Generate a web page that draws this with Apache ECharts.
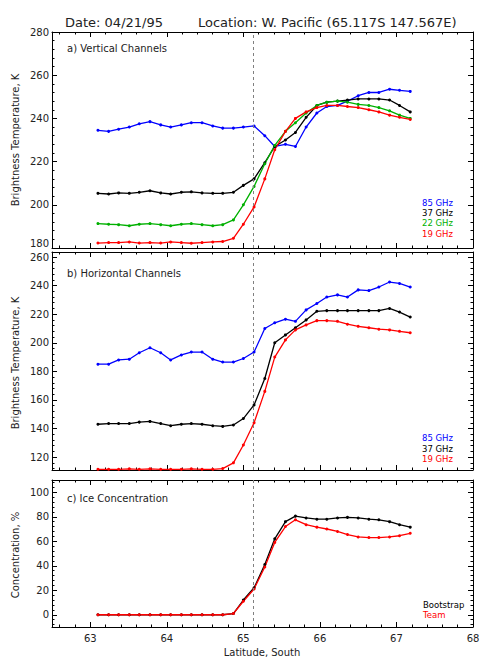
<!DOCTYPE html>
<html>
<head>
<meta charset="utf-8">
<script src="https://cdn.jsdelivr.net/npm/echarts@6/dist/echarts.min.js"></script>
<style>
  html, body { margin: 0; padding: 0; background: #fff; }
  #chart { width: 484px; height: 658px; }
</style>
</head>
<body>
<div id="chart"></div>
<script>
// ---------------- data ----------------
const latitude = [63.10, 63.24, 63.37, 63.51, 63.64, 63.78, 63.92, 64.05, 64.19, 64.32,
                  64.46, 64.60, 64.73, 64.87, 65.00, 65.14, 65.28, 65.41, 65.55, 65.68,
                  65.82, 65.96, 66.09, 66.23, 66.36, 66.50, 66.64, 66.77, 66.91, 67.04, 67.18];

// a) Vertical channels (K)
const v85 = [234.5, 234, 235, 236, 237.5, 238.5, 237, 236, 237, 238,
             238, 236.5, 235.5, 235.5, 236, 236.5, 232, 227, 228, 227,
             236, 242.5, 245.5, 246, 248, 250.5, 252, 252, 253.5, 253, 252.5];
const v37 = [205.3, 205, 205.5, 205.3, 205.8, 206.5, 205.5, 205, 205.8, 206,
             205.5, 205.3, 205.3, 205.8, 209, 212, 219.5, 227, 230, 233.5,
             240.5, 246, 247.5, 248, 248.5, 249, 249, 249, 248.5, 246, 243];
const v22 = [191.3, 191, 190.8, 190.3, 191, 191.3, 190.8, 190.3, 191, 191.3,
             190.8, 190.3, 190.8, 193, 200, 208.5, 219, 227.5, 234, 238,
             242.5, 246, 247.5, 248, 247.5, 246.5, 246, 245, 243.5, 241.5, 240];
const v19 = [182.3, 182.5, 182.5, 182.8, 182.3, 182.5, 182.3, 182.8, 182.5, 182.2,
             182.5, 182.8, 183, 184.5, 191, 199, 212, 225.5, 234, 240,
             243, 245, 246, 246, 245.5, 245, 244, 243, 241.5, 240.5, 239.5];

// b) Horizontal channels (K)
const h85 = [185, 185, 188, 188.5, 193, 196.5, 193, 188, 191.5, 193.5,
             193.5, 188.5, 186.5, 186.5, 189, 193.5, 210, 214, 216.5, 215,
             223, 227.5, 232, 233.5, 232, 237, 236.5, 239, 242.5, 241.5, 239];
const h37 = [143, 143.5, 143.5, 143.5, 144.5, 145, 143.5, 142, 143, 143.5,
             143, 142, 141.5, 142.5, 147, 156.5, 175, 200, 205.5, 210.5,
             216, 222, 222.5, 222.5, 222.5, 222.5, 222.5, 222.5, 224, 221.5, 218];
const h19 = [111.5, 111.5, 111.5, 111.8, 111.5, 111.8, 111.5, 111.5, 111.5, 111.8,
             111.5, 111.5, 112, 116, 128.5, 144, 166, 190, 202, 209,
             212.5, 215.5, 215.5, 215, 213, 211.5, 210.5, 209.5, 209, 208, 207];

// c) Ice concentration (%)
const bootstrap = [0, 0, 0, 0, 0, 0, 0, 0, 0, 0, 0, 0, 0, 1, 12, 22, 41, 62, 76, 80.5,
                   79, 78, 78, 79, 79.5, 79, 78, 77.5, 76, 73.5, 71.5];
const team      = [0, 0, 0, 0, 0, 0, 0, 0, 0, 0, 0, 0, 0, 1, 11, 21, 39, 59, 72, 77.5,
                   73.5, 71.5, 70, 68, 65.5, 63.5, 63, 63, 63.5, 64.5, 66.5];

const iceEdgeLat = 65.13;

// tick labels
const xTicks  = [63, 64, 65, 66, 67, 68];
const yTicksA = [180, 200, 220, 240, 260, 280];
const yTicksB = [120, 140, 160, 180, 200, 220, 240, 260];
const yTicksC = [0, 20, 40, 60, 80, 100];

// ---------------- layout / style ----------------
const FONT = "'DejaVu Sans', sans-serif";
const grids = [
  { left: 52, right: 11, top: 32,  height: 216 },
  { left: 52, right: 11, top: 252, height: 218 },
  { left: 52, right: 11, top: 480, height: 147 }
];
const yRanges = [[180, 280], [111, 263.5], [-10, 110]];
const yMajors = [yTicksA, yTicksB, yTicksC];
const xRange = [62.5, 68];

function minorTicks(lo, hi, step, majors) {
  const out = [];
  const start = Math.ceil(lo / step - 1e-9) * step;
  for (let v = start; v <= hi + 1e-9; v += step) {
    const r = Math.round(v * 1000) / 1000;
    if (!majors.some(m => Math.abs(m - r) < 1e-6)) out.push(r);
  }
  return out;
}
const xMinor = minorTicks(xRange[0], xRange[1], 0.2, xTicks);
const yMinors = [
  minorTicks(180, 280, 4, yTicksA),
  minorTicks(111, 263.5, 4, yTicksB),
  minorTicks(-10, 110, 4, yTicksC)
];

const xAxes = [], yAxes = [];
grids.forEach((g, gi) => {
  const xb = { type: 'value', gridIndex: gi, min: xRange[0], max: xRange[1], splitLine: { show: false } };
  const showX = gi === 2;
  const lineOn = { show: true, onZero: false, lineStyle: { color: '#000', width: 1 } };
  const lineOff = { show: false, onZero: false };
  xAxes.push(
    Object.assign({}, xb, { position: 'bottom', axisLine: lineOn,
      axisTick: { show: true, inside: true, length: 5, customValues: xTicks, lineStyle: { color: '#000' } },
      axisLabel: { show: showX, customValues: xTicks, margin: 6, fontSize: 10, color: '#222', fontFamily: FONT } }),
    Object.assign({}, xb, { position: 'bottom', axisLine: lineOff,
      axisTick: { show: true, inside: true, length: 2.5, customValues: xMinor, lineStyle: { color: '#000' } },
      axisLabel: { show: false } }),
    Object.assign({}, xb, { position: 'top', axisLine: lineOn,
      axisTick: { show: true, inside: true, length: 5, customValues: xTicks, lineStyle: { color: '#000' } },
      axisLabel: { show: false } }),
    Object.assign({}, xb, { position: 'top', axisLine: lineOff,
      axisTick: { show: true, inside: true, length: 2.5, customValues: xMinor, lineStyle: { color: '#000' } },
      axisLabel: { show: false } })
  );
  const yb = { type: 'value', gridIndex: gi, min: yRanges[gi][0], max: yRanges[gi][1], splitLine: { show: false } };
  const yLabel = { show: true, customValues: yMajors[gi], margin: 3, fontSize: 10, color: '#222', fontFamily: FONT };
  if (gi === 0) yLabel.verticalAlignMinLabel = 'bottom';
  yAxes.push(
    Object.assign({}, yb, { position: 'left', axisLine: lineOn,
      axisTick: { show: true, inside: true, length: 5, customValues: yMajors[gi], lineStyle: { color: '#000' } },
      axisLabel: yLabel }),
    Object.assign({}, yb, { position: 'left', axisLine: lineOff,
      axisTick: { show: true, inside: true, length: 2.5, customValues: yMinors[gi], lineStyle: { color: '#000' } },
      axisLabel: { show: false } }),
    Object.assign({}, yb, { position: 'right', axisLine: lineOn,
      axisTick: { show: true, inside: true, length: 5, customValues: yMajors[gi], lineStyle: { color: '#000' } },
      axisLabel: { show: false } }),
    Object.assign({}, yb, { position: 'right', axisLine: lineOff,
      axisTick: { show: true, inside: true, length: 2.5, customValues: yMinors[gi], lineStyle: { color: '#000' } },
      axisLabel: { show: false } })
  );
});

const BLUE = '#0000ff', BLACK = '#000000', GREEN = '#00b000', RED = '#ff0000';

function lineSeries(name, values, color, gi, withEdge) {
  const s = {
    name: name, type: 'line', xAxisIndex: gi * 4, yAxisIndex: gi * 4,
    data: latitude.map((x, i) => [x, values[i]]),
    symbol: 'circle', symbolSize: 3, showSymbol: true,
    lineStyle: { color: color, width: 1.3 },
    itemStyle: { color: color },
    animation: false, silent: true, z: 3
  };
  if (withEdge) {
    s.markLine = {
      silent: true, symbol: ['none', 'none'], label: { show: false },
      lineStyle: { color: '#808080', type: [3, 3], width: 1 },
      data: [{ xAxis: iceEdgeLat }],
      animation: false
    };
  }
  return s;
}

const series = [
  lineSeries('85 GHz', v85, BLUE, 0, true),
  lineSeries('37 GHz', v37, BLACK, 0, false),
  lineSeries('22 GHz', v22, GREEN, 0, false),
  lineSeries('19 GHz', v19, RED, 0, false),
  lineSeries('85 GHz H', h85, BLUE, 1, true),
  lineSeries('37 GHz H', h37, BLACK, 1, false),
  lineSeries('19 GHz H', h19, RED, 1, false),
  lineSeries('Bootstrap', bootstrap, BLACK, 2, true),
  lineSeries('Team', team, RED, 2, false)
];

function txt(x, y, text, size, color, opts) {
  opts = opts || {};
  return {
    type: 'text', x: x, y: y, rotation: opts.rotation || 0, silent: true,
    style: {
      text: text, fill: color, font: (opts.weight || 'normal') + ' ' + size + 'px ' + FONT,
      align: opts.align || 'left', verticalAlign: 'middle',
      textAlign: opts.align || 'left', textVerticalAlign: 'middle'
    }
  };
}

const graphics = [
  txt(65, 22, 'Date: 04/21/95', 13, '#222'),
  txt(198, 22, 'Location: W. Pacific (65.117S 147.567E)', 13, '#222'),
  txt(67, 48, 'a) Vertical Channels', 10, '#222'),
  txt(67, 273, 'b) Horizontal Channels', 10, '#222'),
  txt(67, 498, 'c) Ice Concentration', 10, '#222'),
  txt(15, 140, 'Brightness Temperature, K', 10, '#222', { align: 'center', rotation: Math.PI / 2 }),
  txt(15, 363, 'Brightness Temperature, K', 10, '#222', { align: 'center', rotation: Math.PI / 2 }),
  txt(15, 555, 'Concentration, %', 10, '#222', { align: 'center', rotation: Math.PI / 2 }),
  txt(262, 652, 'Latitude, South', 10, '#222', { align: 'center' }),
  txt(422, 203, '85 GHz', 8.5, BLUE),
  txt(422, 213, '37 GHz', 8.5, BLACK),
  txt(422, 223, '22 GHz', 8.5, GREEN),
  txt(422, 234, '19 GHz', 8.5, RED),
  txt(422, 438, '85 GHz', 8.5, BLUE),
  txt(422, 449, '37 GHz', 8.5, BLACK),
  txt(422, 459, '19 GHz', 8.5, RED),
  txt(423, 605, 'Bootstrap', 8.5, BLACK),
  txt(423, 615, 'Team', 8.5, RED)
];

const chart = echarts.init(document.getElementById('chart'), null, { renderer: 'svg', width: 484, height: 658 });
chart.setOption({
  backgroundColor: '#ffffff',
  animation: false,
  grid: grids,
  xAxis: xAxes,
  yAxis: yAxes,
  series: series,
  graphic: graphics
});
</script>
</body>
</html>
